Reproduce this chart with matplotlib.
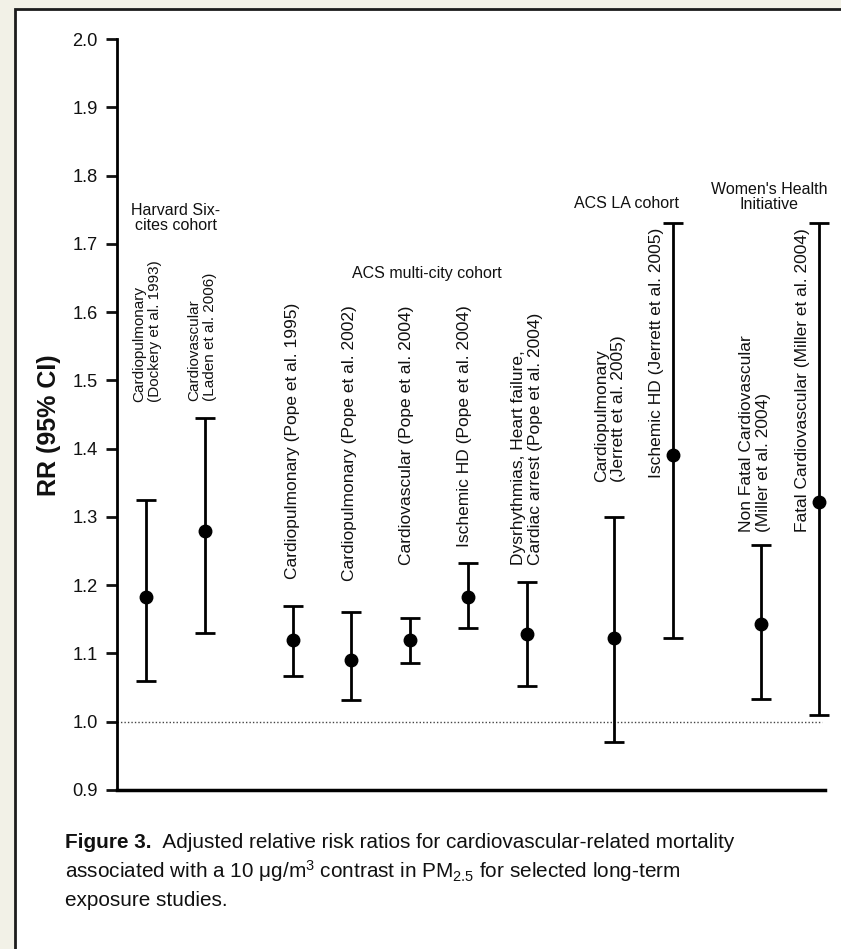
import matplotlib
matplotlib.use("Agg")
import matplotlib.pyplot as plt
from matplotlib.patches import Rectangle
from matplotlib import font_manager
import numpy as np

# ----------------------- Data --------------------------
studies = ["Cardiopulmonary\n(Dockery et al. 1993)",
           "Cardiovascular\n(Laden et al. 2006)",
           "Cardiopulmonary (Pope et al. 1995)",
           "Cardiopulmonary (Pope et al. 2002)",
           "Cardiovascular (Pope et al. 2004)",
           "Ischemic HD (Pope et al. 2004)",
           "Dysrhythmias, Heart failure,\nCardiac arrest (Pope et al. 2004)",
           "Cardiopulmonary\n(Jerrett et al. 2005)",
           "Ischemic HD (Jerrett et al. 2005)",
           "Non Fatal Cardiovascular\n(Miller et al. 2004)",
           "Fatal Cardiovascular (Miller et al. 2004)"]
rr = np.array([1.183, 1.28, 1.12, 1.09, 1.12, 1.183, 1.128, 1.122, 1.39, 1.143, 1.322])
ci_low = np.array([1.06, 1.13, 1.067, 1.032, 1.086, 1.138, 1.052, 0.97, 1.122, 1.033, 1.01])
ci_high = np.array([1.325, 1.445, 1.17, 1.161, 1.152, 1.232, 1.205, 1.30, 1.73, 1.259, 1.73])
cohorts = ["Harvard Six-\ncites cohort", "ACS multi-city cohort",
           "ACS LA cohort", "Women's Health\nInitiative"]
yticks = [0.9, 1.0, 1.1, 1.2, 1.3, 1.4, 1.5, 1.6, 1.7, 1.8, 1.9, 2.0]

# ----------------------- Layout --------------------------
# x slot of each study (gaps between cohorts)
xs = [0, 1, 2.5, 3.5, 4.5, 5.5, 6.5, 8, 9, 10.5, 11.5]
# rotated label placement: (x, y, vertical anchor, font size)
label_pos = [(0.02, 1.468, 'bottom', 11), (0.96, 1.47, 'bottom', 11),
             (2.5, 1.614, 'top', 12.5), (3.47, 1.61, 'top', 12.5),
             (4.44, 1.61, 'top', 12.5), (5.44, 1.61, 'top', 12.5),
             (6.51, 1.229, 'bottom', 12.5), (7.93, 1.351, 'bottom', 12.5),
             (8.72, 1.723, 'top', 12.5), (10.41, 1.278, 'bottom', 12.5),
             (11.22, 1.723, 'top', 12.5)]
cohort_pos = [(-0.26, 1.738, 'left'), (4.79, 1.657, 'center'),
              (8.2, 1.759, 'center'), (10.65, 1.768, 'center')]

names = {f.name for f in font_manager.fontManager.ttflist}
narrow = 'Liberation Sans Narrow' if 'Liberation Sans Narrow' in names else 'Liberation Sans'
shrink = 1.0 if narrow == 'Liberation Sans Narrow' else 0.85
regular = 'Liberation Sans'

plt.rcParams['mathtext.fontset'] = 'custom'
plt.rcParams['mathtext.rm'] = narrow
plt.rcParams['mathtext.it'] = narrow + ':italic'
plt.rcParams['mathtext.bf'] = narrow + ':bold'

W, H = 841, 949
fig = plt.figure(figsize=(W / 100, H / 100), dpi=100, facecolor='#F2F1E7')

# white panel with dark frame on left/top
panel = Rectangle((15 / W, -0.05), 1.0, 1.05 - 9 / H, transform=fig.transFigure,
                  facecolor='white', edgecolor='#1c1c1c', linewidth=2, zorder=-1)
fig.add_artist(panel)

ax = fig.add_axes([117 / W, 1 - 790 / H, (825 - 117) / W, (790 - 39) / H])
ax.set_facecolor('none')

# ----------------------- Plot --------------------------
eb = ax.errorbar(xs, rr, yerr=[rr - ci_low, ci_high - rr], fmt='o', color='black',
                 ms=9, capsize=7, capthick=2, elinewidth=2, zorder=3)
for child in eb.get_children():
    child.set_clip_on(False)

ax.axhline(1.0, xmin=0, xmax=(822 - 117) / (825 - 117), color='#444444', lw=1,
           ls=(0, (1, 1.5)), zorder=1)

for txt, (x, y, va, fs) in zip(studies, label_pos):
    ax.text(x, y, txt, rotation=90, ha='center', va=va, multialignment='left',
            fontsize=fs, family=regular, color='#111111', linespacing=1.15)

for txt, (x, y, ha) in zip(cohorts, cohort_pos):
    ax.text(x, y, txt, ha=ha, va='center', multialignment='center',
            fontsize=13.6 * shrink, family=narrow, color='#111111', linespacing=1.0)

# Axis info
ax.set_xlim(-0.5, 11.6)
ax.set_ylim(0.9, 2.0)
ax.set_xticks([])
ax.set_yticks(yticks)
ax.set_yticklabels(['%.1f' % t for t in yticks], family=narrow, fontsize=15.5 * shrink)
ax.tick_params(axis='y', direction='out', length=8, width=2, pad=6, colors='#111111')
ax.spines['top'].set_visible(False)
ax.spines['right'].set_visible(False)
ax.spines['left'].set_linewidth(2)
ax.spines['bottom'].set_linewidth(2.5)

fig.text(49 / W, 1 - 425 / H, "RR (95% CI)", rotation=90, ha='center', va='center',
         fontsize=18, fontweight='bold', family=regular, color='#111111')

# Caption
cap_fs = 17.6 * shrink
t1 = fig.text(65 / W, 1 - 843 / H, "Figure 3.", ha='left', va='center',
              fontsize=cap_fs, fontweight='bold', family=narrow, color='#111111')
ax.annotate("  Adjusted relative risk ratios for cardiovascular-related mortality",
            xy=(1, 0), xycoords=t1, ha='left', va='bottom',
            fontsize=cap_fs, family=narrow, color='#111111', annotation_clip=False)
fig.text(65 / W, 1 - 871 / H,
         r"associated with a 10 μg/m$^{\mathrm{3}}$ contrast in PM$_{\mathrm{2.5}}$ for selected long-term",
         ha='left', va='center', fontsize=cap_fs, family=narrow, color='#111111')
fig.text(65 / W, 1 - 900 / H, "exposure studies.", ha='left', va='center',
         fontsize=cap_fs, family=narrow, color='#111111')

fig.savefig('out.png', dpi=100, facecolor=fig.get_facecolor())
